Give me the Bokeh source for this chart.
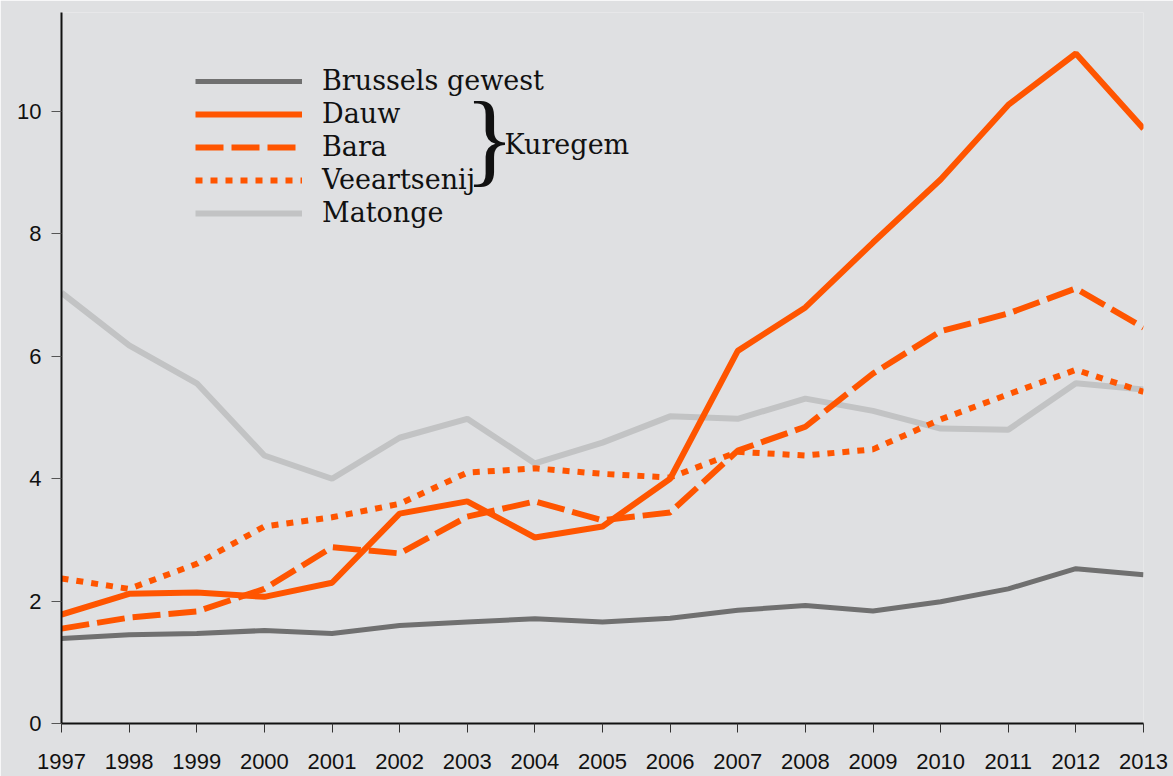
from bokeh.plotting import figure
from bokeh.models import Range1d, Legend, LegendItem, Label, FixedTicker
from bokeh.embed import file_html
from bokeh.resources import INLINE

years = list(range(1997, 2014))
brussels = [1.39, 1.45, 1.47, 1.52, 1.47, 1.60, 1.66, 1.71, 1.66, 1.72, 1.85, 1.93, 1.84, 1.99, 2.20, 2.53, 2.43]
dauw = [1.78, 2.12, 2.14, 2.07, 2.30, 3.43, 3.63, 3.04, 3.22, 4.00, 6.09, 6.80, 7.86, 8.89, 10.11, 10.95, 9.72]
bara = [1.55, 1.73, 1.83, 2.20, 2.88, 2.78, 3.38, 3.63, 3.32, 3.45, 4.46, 4.85, 5.72, 6.41, 6.70, 7.11, 6.47]
veeartsenij = [2.37, 2.20, 2.61, 3.22, 3.37, 3.59, 4.10, 4.17, 4.08, 4.02, 4.44, 4.38, 4.48, 4.97, 5.38, 5.78, 5.42]
matonge = [7.04, 6.18, 5.56, 4.38, 4.00, 4.67, 4.98, 4.25, 4.59, 5.02, 4.98, 5.31, 5.11, 4.82, 4.80, 5.56, 5.46]
y_ticks = [0, 2, 4, 6, 8, 10]

BG = "#dfe0e2"
ORANGE = "#ff5500"
DARK = "#707070"
LIGHT = "#c2c3c4"
SERIF = "DejaVu Serif"
SANS = "Liberation Sans"

p = figure(width=1173, height=776, output_backend="svg", toolbar_location=None,
           x_range=Range1d(1997, 2013), y_range=Range1d(0, 11.62),
           min_border_left=61, min_border_right=30, min_border_top=12, min_border_bottom=53,
           background_fill_color=BG, border_fill_color=BG, outline_line_color=None)
p.grid.visible = False

r_mat = p.line(years, matonge, line_color=LIGHT, line_width=6)
r_vee = p.line(years, veeartsenij, line_color=ORANGE, line_width=6, line_dash="7 8", line_cap="butt")
r_bara = p.line(years, bara, line_color=ORANGE, line_width=6, line_dash="28 8", line_cap="butt")
r_dauw = p.line(years, dauw, line_color=ORANGE, line_width=6)
r_bru = p.line(years, brussels, line_color=DARK, line_width=5)

p.xaxis.ticker = FixedTicker(ticks=years)
p.yaxis.ticker = FixedTicker(ticks=y_ticks)
for ax in (p.xaxis[0], p.yaxis[0]):
    ax.axis_line_color = "#111111"
    ax.axis_line_width = 2
    ax.minor_tick_line_color = None
    ax.major_tick_in = 0
    ax.major_label_text_font = SANS
    ax.major_label_text_font_size = "22px"
    ax.major_label_text_color = "#111111"
p.xaxis.major_tick_out = 9
p.xaxis.major_tick_line_color = "#333333"
p.xaxis.major_label_standoff = 21
p.yaxis.major_tick_out = 10
p.yaxis.major_tick_line_color = "#555555"
p.yaxis.major_label_standoff = 10

legend = Legend(items=[
    LegendItem(label="Brussels gewest", renderers=[r_bru]),
    LegendItem(label="Dauw", renderers=[r_dauw]),
    LegendItem(label="Bara", renderers=[r_bara]),
    LegendItem(label="Veeartsenij", renderers=[r_vee]),
    LegendItem(label="Matonge", renderers=[r_mat]),
], location=(134, 495), orientation="vertical",
    glyph_width=107, glyph_height=30, label_height=30, spacing=2, padding=0, margin=0,
    label_standoff=20, label_text_font=SERIF, label_text_font_size="27px",
    label_text_color="#111111", background_fill_alpha=0, border_line_color=None)
p.add_layout(legend)

p.add_layout(Label(x=403, y=586, x_units="screen", y_units="screen", text="}",
                   text_font="Liberation Serif", text_font_size="104px",
                   text_baseline="middle", text_align="left", text_color="#111111"))
p.add_layout(Label(x=443, y=579, x_units="screen", y_units="screen", text="Kuregem",
                   text_font=SERIF, text_font_size="27px",
                   text_baseline="middle", text_align="left", text_color="#111111"))

open("out.html", "w").write(file_html(p, INLINE))
